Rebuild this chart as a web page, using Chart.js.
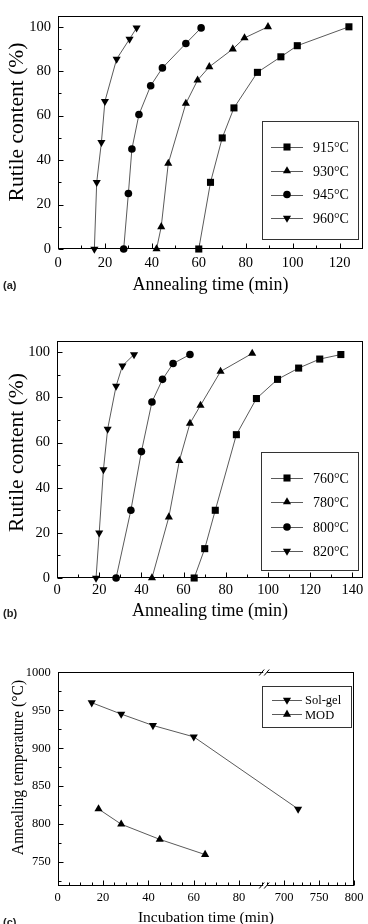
<!DOCTYPE html>
<html><head><meta charset="utf-8">
<script src="https://cdn.jsdelivr.net/npm/chart.js@4/dist/chart.umd.min.js"></script>
<style>
html,body{margin:0;padding:0;background:#fff;overflow:hidden;width:368px;height:924px;}
.wrap{position:absolute;left:0;width:368px;}
.tag{position:absolute;left:3px;font:bold 11px "Liberation Sans",Arial,sans-serif;color:#222;line-height:13px;}
</style></head><body>
<div class="wrap" style="top:0;height:300px"><canvas id="ca"></canvas></div>
<div class="wrap" style="top:300px;height:325px"><canvas id="cb"></canvas></div>
<div class="wrap" style="top:625px;height:305px"><canvas id="cc"></canvas></div>
<div class="tag" style="top:279px">(a)</div>
<div class="tag" style="top:607px">(b)</div>
<div class="tag" style="top:916px">(c)</div>
<script>
// ---------- data: panel (a) ----------
const labelsA = ['915°C', '930°C', '945°C', '960°C'];
const timeA915 = [60, 65, 70, 75, 85, 95, 102, 124];
const rutileA915 = [0, 30, 50, 63.5, 79.5, 86.5, 91.5, 100];
const timeA930 = [42, 44, 47, 54.5, 59.5, 64.5, 74.5, 79.5, 89.5];
const rutileA930 = [0, 10, 38.5, 65.5, 76, 82, 90, 95, 100];
const timeA945 = [28, 30, 31.5, 34.5, 39.5, 44.5, 54.5, 61];
const rutileA945 = [0, 25, 45, 60.5, 73.5, 81.5, 92.5, 99.5];
const timeA960 = [15.5, 16.5, 18.5, 20, 25, 30.5, 33.5];
const rutileA960 = [0, 30, 48, 66.5, 85.5, 94.5, 99.5];
const ticksXA = [0, 20, 40, 60, 80, 100, 120];
const ticksYAB = [0, 20, 40, 60, 80, 100];

// ---------- data: panel (b) ----------
const labelsB = ['760°C', '780°C', '800°C', '820°C'];
const timeB760 = [65, 70, 75, 85, 94.5, 104.5, 114.5, 124.5, 134.5];
const rutileB760 = [0, 13, 30, 63.5, 79.5, 88, 93, 97, 99];
const timeB780 = [45, 53, 58, 63, 68, 77.5, 92.5];
const rutileB780 = [0, 27, 52, 68.5, 76.5, 91.5, 99.5];
const timeB800 = [28, 35, 40, 45, 50, 55, 63];
const rutileB800 = [0, 30, 56, 78, 88, 95, 99];
const timeB820 = [18.5, 20, 22, 24, 28, 31, 36.5];
const rutileB820 = [0, 20, 48, 66, 85, 94, 99];
const ticksXB = [0, 20, 40, 60, 80, 100, 120, 140];

// ---------- data: panel (c) ----------
const labelsC = ['Sol-gel', 'MOD'];
const timeSolGel = [15, 28, 42, 60, 720];
const tempSolGel = [960, 945, 930, 915, 820];
const timeMOD = [18, 28, 45, 65];
const tempMOD = [820, 800, 780, 760];
const ticksXC = [0, 20, 40, 60, 80, 700, 750, 800];
const ticksYC = [750, 800, 850, 900, 950, 1000];

// ---------- styling ----------
const SERIF = '"Liberation Serif","Times New Roman",serif';
const LINE = '#5a5a5a';

// broken x axis for panel (c)
const BREAK_LO = 91.5, BREAK_HI = 673, RIGHT_RATIO = 0.703 / 2.277;
function toBroken(v) { return v <= BREAK_LO ? v : (v >= BREAK_HI ? BREAK_LO + (v - BREAK_HI) * RIGHT_RATIO : BREAK_LO); }
function fromBroken(d) { return d <= BREAK_LO ? d : BREAK_HI + (d - BREAK_LO) / RIGHT_RATIO; }
class BrokenScale extends Chart.LinearScale {
  getPixelForValue(value) {
    if (value === null || value === undefined || isNaN(value)) return NaN;
    const lo = toBroken(this.min), hi = toBroken(this.max);
    return this.getPixelForDecimal((toBroken(value) - lo) / (hi - lo));
  }
  getValueForPixel(pixel) {
    const lo = toBroken(this.min), hi = toBroken(this.max);
    return fromBroken(lo + this.getDecimalForPixel(pixel) * (hi - lo));
  }
}
BrokenScale.id = 'brokenLinear';
BrokenScale.defaults = Chart.LinearScale.defaults;
Chart.register(BrokenScale);

function minorsOf(major, n) {
  const out = [];
  for (let i = 0; i < major.length - 1; i++) {
    const a = major[i], b = major[i + 1];
    if (b - a > 100) continue;
    for (let k = 1; k <= n; k++) out.push(a + (b - a) * k / (n + 1));
  }
  return out;
}

const deco = {
  id: 'deco',
  beforeDatasetsDraw(chart, args, o) {
    const {ctx, chartArea: a} = chart;
    const xs = chart.scales.x, ys = chart.scales.y;
    ctx.save();
    ctx.strokeStyle = '#000';
    ctx.lineWidth = 1;
    const L = Math.round(a.left) + 0.5, R = Math.round(a.right) - 0.5, T = Math.round(a.top) + 0.5, B = Math.round(a.bottom) - 0.5;
    ctx.strokeRect(L, T, R - L, B - T);
    ctx.beginPath();
    const tx = (v, len) => { const p = Math.round(xs.getPixelForValue(v)) + 0.5; ctx.moveTo(p, B); ctx.lineTo(p, B - len); };
    const ty = (v, len) => { const p = Math.round(ys.getPixelForValue(v)) + 0.5; ctx.moveTo(L, p); ctx.lineTo(L + len, p); };
    o.xMajor.forEach(v => tx(v, 5));
    o.xMinor.forEach(v => tx(v, 3));
    o.yMajor.forEach(v => ty(v, 5));
    o.yMinor.filter(v => v >= ys.min && v <= ys.max).forEach(v => ty(v, 3));
    ctx.stroke();
    if (o.breakAt !== undefined) {
      const p = xs.getPixelForValue(o.breakAt);
      [T, B].forEach(y => {
        ctx.fillStyle = '#fff';
        ctx.fillRect(p - 2, y - 1.5, 4, 3);
        ctx.beginPath();
        ctx.moveTo(p - 6, y + 3); ctx.lineTo(p - 1, y - 3);
        ctx.moveTo(p - 1, y + 3); ctx.lineTo(p + 4, y - 3);
        ctx.stroke();
      });
    }
    // y title
    ctx.fillStyle = '#000';
    ctx.font = o.yTitle.size + 'px ' + SERIF;
    ctx.textAlign = 'center';
    ctx.textBaseline = 'middle';
    ctx.translate(o.yTitle.x, o.yTitle.y);
    ctx.rotate(-Math.PI / 2);
    ctx.fillText(o.yTitle.text, 0, 0);
    ctx.restore();
  },
  afterDatasetsDraw(chart, args, o) {
    const {ctx} = chart;
    const lg = o.legend;
    ctx.save();
    const [l, t, r, b] = lg.box;
    ctx.fillStyle = '#fff';
    ctx.fillRect(l, t, r - l, b - t);
    ctx.strokeStyle = '#333';
    ctx.lineWidth = 1;
    ctx.strokeRect(l + 0.5, t + 0.5, r - l, b - t);
    chart.data.datasets.forEach((ds, i) => {
      const y = lg.rows[i];
      ctx.strokeStyle = LINE;
      ctx.beginPath();
      ctx.moveTo(lg.x1, Math.round(y) + 0.5); ctx.lineTo(lg.x2, Math.round(y) + 0.5);
      ctx.stroke();
      ctx.fillStyle = '#000';
      Chart.helpers.drawPoint(ctx, {pointStyle: ds.pointStyle, rotation: ds.rotation || 0, radius: ds.pointRadius, borderWidth: 0}, lg.mx, y);
      ctx.fillStyle = '#000';
      ctx.font = lg.size + 'px ' + SERIF;
      ctx.textAlign = 'left';
      ctx.textBaseline = 'middle';
      ctx.fillText(ds.label, lg.tx, y + 1);
    });
    ctx.restore();
  }
};

function series(label, xs, ys, style, r, rot) {
  return {
    label, data: xs.map((v, i) => ({x: v, y: ys[i]})),
    borderColor: LINE, borderWidth: 1, tension: 0, fill: false, clip: false,
    pointStyle: style, rotation: rot || 0, pointRadius: r,
    pointBackgroundColor: '#000', pointBorderColor: '#000', pointBorderWidth: 0,
    pointHoverRadius: r
  };
}

function build(id, c) {
  return new Chart(document.getElementById(id), {
    type: 'line',
    data: {datasets: c.datasets},
    plugins: [deco],
    options: {
      responsive: true, maintainAspectRatio: false, animation: false,
      events: [],
      layout: {padding: {left: 0, right: c.padR, top: c.padT, bottom: 0}},
      plugins: {legend: {display: false}, tooltip: {enabled: false}, deco: c.deco},
      scales: {
        x: {
          type: c.xType || 'linear', min: c.xMin, max: c.xMax,
          afterBuildTicks: s => { s.ticks = c.xTicks.map(v => ({value: v})); },
          afterFit: s => { s.height = c.xH; },
          grid: {display: false, drawTicks: false}, border: {display: false},
          ticks: {autoSkip: false, maxRotation: 0, padding: c.xTickPad, color: '#000',
            font: {family: SERIF, size: c.tickSize}, callback: v => String(v)},
          title: {display: true, text: c.xTitle, color: '#000',
            font: {family: SERIF, size: c.xTitleSize}, padding: {top: 0, bottom: c.xTitlePad}}
        },
        y: {
          type: 'linear', min: c.yMin, max: c.yMax,
          afterBuildTicks: s => { s.ticks = c.yTicks.map(v => ({value: v})); },
          afterFit: s => { s.width = c.yW; },
          grid: {display: false, drawTicks: false}, border: {display: false},
          ticks: {autoSkip: false, padding: c.yTickPad, color: '#000',
            font: {family: SERIF, size: c.tickSize}, callback: v => String(v)}
        }
      }
    }
  });
}

// (a)
build('ca', {
  datasets: [
    series(labelsA[0], timeA915, rutileA915, 'rect', 5),
    series(labelsA[1], timeA930, rutileA930, 'triangle', 4.7),
    series(labelsA[2], timeA945, rutileA945, 'circle', 3.8),
    series(labelsA[3], timeA960, rutileA960, 'triangle', 4.7, 180)
  ],
  padR: 5, padT: 13, yW: 58, xH: 51,
  xMin: 0, xMax: 130, yMin: 0, yMax: 105, xTicks: ticksXA, yTicks: ticksYAB,
  tickSize: 14.5, xTickPad: 5, yTickPad: 7,
  xTitle: 'Annealing time (min)', xTitleSize: 18, xTitlePad: 4,
  deco: {
    xMajor: ticksXA, xMinor: minorsOf(ticksXA.concat([140]), 1).filter(v => v < 130),
    yMajor: ticksYAB, yMinor: minorsOf(ticksYAB, 1),
    yTitle: {text: 'Rutile content (%)', x: 17, y: 122, size: 21.5},
    legend: {box: [262, 121, 358, 239], rows: [147, 171, 194.5, 218], x1: 271, x2: 303, mx: 287, tx: 313, size: 14}
  }
});

// (b)
build('cb', {
  datasets: [
    series(labelsB[0], timeB760, rutileB760, 'rect', 5),
    series(labelsB[1], timeB780, rutileB780, 'triangle', 4.7),
    series(labelsB[2], timeB800, rutileB800, 'circle', 3.8),
    series(labelsB[3], timeB820, rutileB820, 'triangle', 4.7, 180)
  ],
  padR: 4, padT: 41, yW: 57, xH: 47,
  xMin: 0, xMax: 145, yMin: 0, yMax: 105, xTicks: ticksXB, yTicks: ticksYAB,
  tickSize: 14.5, xTickPad: 3, yTickPad: 7,
  xTitle: 'Annealing time (min)', xTitleSize: 18, xTitlePad: 2.5,
  deco: {
    xMajor: ticksXB, xMinor: minorsOf(ticksXB, 1),
    yMajor: ticksYAB, yMinor: minorsOf(ticksYAB, 1),
    yTitle: {text: 'Rutile content (%)', x: 17, y: 152.5, size: 21.5},
    legend: {box: [261, 152, 358, 270], rows: [178, 202, 227, 251], x1: 271, x2: 303, mx: 287, tx: 313, size: 14}
  }
});

// (c)
build('cc', {
  datasets: [
    series(labelsC[0], timeSolGel, tempSolGel, 'triangle', 4.7, 180),
    series(labelsC[1], timeMOD, tempMOD, 'triangle', 4.7)
  ],
  xType: 'brokenLinear',
  padR: 12.7, padT: 47.3, yW: 57.7, xH: 305 - 260.7,
  xMin: 0, xMax: 800, yMin: 719, yMax: 1000, xTicks: ticksXC, yTicks: ticksYC,
  tickSize: 12.5, xTickPad: 4.5, yTickPad: 7,
  xTitle: 'Incubation time (min)', xTitleSize: 15.5, xTitlePad: 3,
  deco: {
    xMajor: ticksXC, xMinor: minorsOf([0, 20, 40, 60, 80, 100], 3).filter(v => v < BREAK_LO).concat(minorsOf([650, 700, 750, 800], 3).filter(v => v > BREAK_HI)),
    yMajor: ticksYC, yMinor: minorsOf([700].concat(ticksYC), 1),
    breakAt: BREAK_LO,
    yTitle: {text: 'Annealing temperature (°C)', x: 18.5, y: 142.5, size: 15.7},
    legend: {box: [262, 61, 351, 102], rows: [75, 89.3], x1: 272, x2: 302, mx: 287, tx: 305, size: 12.5}
  }
});
</script>
</body></html>
